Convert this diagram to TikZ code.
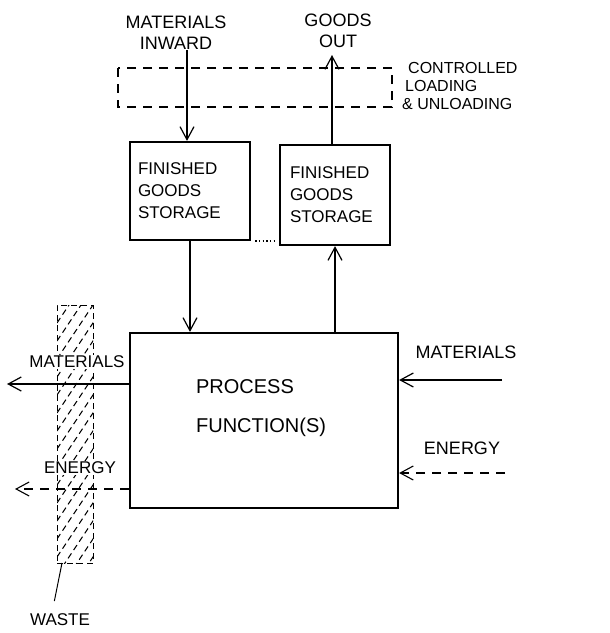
\documentclass[tikz,border=0pt]{standalone}
\usepackage{fontspec}
\setmainfont{Liberation Sans}
\usetikzlibrary{arrows.meta}
\newcommand{\FT}{\fontsize{17}{22}\selectfont}
\newcommand{\FL}{\fontsize{18}{21}\selectfont}
\newcommand{\FC}{\fontsize{16}{18}\selectfont}
\newcommand{\FP}{\fontsize{20}{39}\selectfont}

\begin{document}
\begin{tikzpicture}[x=1pt,y=-1pt]
\tikzstyle{texto}=[draw=none,fill=none,black,font=\FT,inner sep=1pt]
\tikzstyle{blanco}=[texto,fill=white]
\tikzstyle{caja}=[draw=black,line width=2.2pt,align=left,font=\FT,inner ysep=0pt]
\tikzstyle{flecha}=[line width=1.2pt,-{Straight Barb[length=13pt,width=14pt]}]
\tikzstyle{rayas}=[line width=1.1pt,dash pattern=on 9pt off 7pt]

\useasboundingbox (0,0) rectangle (610,633);

% waste column
\node[draw,line width=0.9pt,dash pattern=on 6pt off 4pt,minimum width=36,minimum height=258,
  path picture={\foreach \k in {0,...,19}
    \draw[line width=1pt] ([yshift=-\k*18pt]path picture bounding box.north west) -- ++(40,-60);}]
  (desecho) at (75,434) {};

% loading zone
\coordinate (carga1) at (118,68);
\coordinate (carga2) at (392,107);
\draw[rayas] (carga1) rectangle (carga2);

% boxes
\node[caja,inner xsep=8pt,text width=104pt,minimum height=98] (alm1) at (190,191) {FINISHED\\GOODS\\STORAGE};
\node[caja,inner xsep=10pt,text width=90pt,minimum height=100] (alm2) at (335,195) {FINISHED\\GOODS\\STORAGE};
\node[caja,minimum width=268,minimum height=175] (proc) at (264,420.5) {};
\node[texto,font=\FP,align=left,anchor=west] (proctxt) at ([xshift=66pt,yshift=12pt]proc.west) {PROCESS\\FUNCTION(S)};

% labels
\node[texto,font=\FL,align=center] (entra) at (176,33) {MATERIALS\\INWARD};
\node[texto,font=\FL,align=center] (sale) at (338,31) {GOODS\\OUT};
\node[texto,font=\FC,align=left,anchor=west] (control) at (401,86) {\hspace*{6pt}CONTROLLED\\\hspace*{3pt}LOADING\\\& UNLOADING};
\node[texto,font=\FL] (matder) at (466,352) {MATERIALS};
\node[texto,font=\FL] (ender) at (462,448) {ENERGY};
\node[blanco] (matizq) at (77,362) {MATERIALS};
\node[blanco] (enizq) at (80,468) {ENERGY};
\node[texto] (basura) at (60,620) {WASTE};

% flows
\coordinate (arriba1) at (187,50);
\coordinate (arriba2) at (332,55);
\draw[flecha] (arriba1) -- (arriba1 |- alm1.north);
\draw[flecha] (arriba2 |- alm2.north) -- (arriba2);
\draw[flecha] (alm1.south) -- (alm1.south |- proc.north);
\draw[flecha] (alm2.south |- proc.north) -- (alm2.south);
\draw[line width=1.5pt,dash pattern=on 1.5pt off 2.2pt,shorten <=4pt,shorten >=3pt]
  (alm1.south east) -- (alm1.south east -| alm2.west);

\coordinate (dermat) at (502,380);
\coordinate (deren) at (505,473);
\coordinate (izqmat) at (7,384);
\coordinate (izqen) at (15,489);
\draw[flecha] (dermat) -- (dermat -| proc.east);
\draw[flecha,rayas] (deren) -- (deren -| proc.east);
\draw[flecha] (izqmat -| proc.west) -- (izqmat);
\draw[flecha,rayas] (izqen -| proc.west) -- (izqen);

\coordinate (pie) at (62,563);
\draw[line width=1pt,shorten >=12pt] (pie) -- ([xshift=-8pt]basura.north);
\end{tikzpicture}
\end{document}
